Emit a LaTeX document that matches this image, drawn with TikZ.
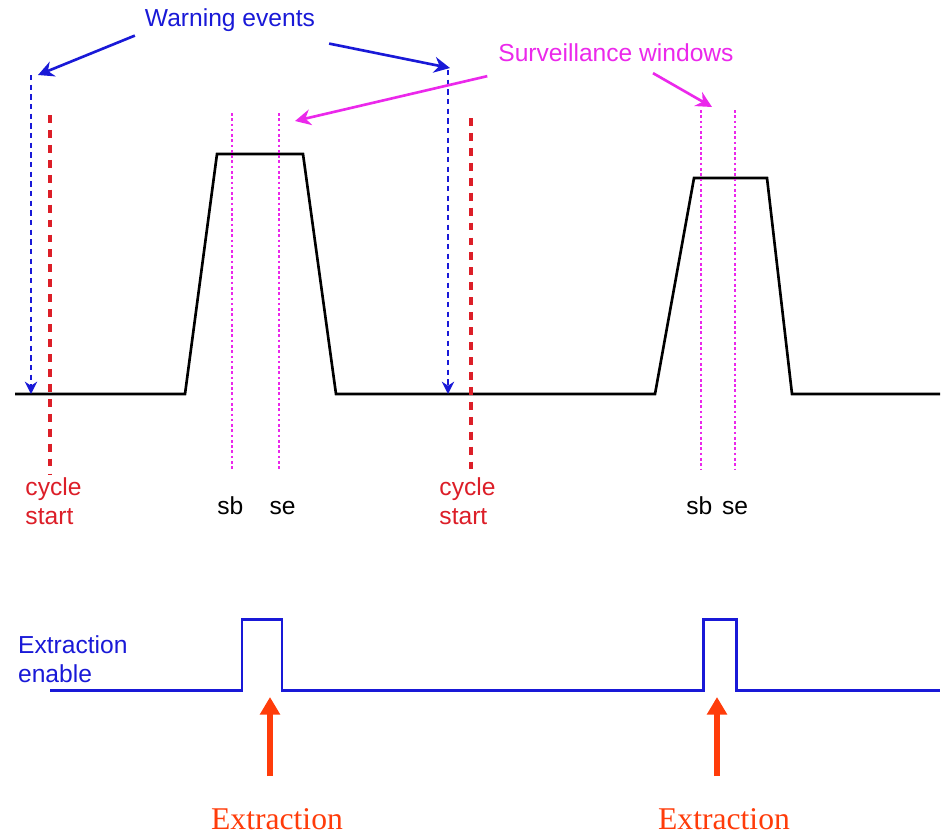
\documentclass[tikz,border=0pt]{standalone}
\usepackage{fontspec}
\setmainfont{Liberation Sans}
\newfontfamily\timesfont{Liberation Serif}
\usetikzlibrary{arrows.meta, positioning}
\definecolor{warnblue}{RGB}{25,25,215}
\definecolor{survmag}{RGB}{235,40,235}
\definecolor{cyclered}{RGB}{220,30,40}
\definecolor{extrred}{RGB}{255,60,10}
\tikzset{
  signal/.style    = {line width=1.5pt, black},
  enable/.style    = {line width=1.7pt, color=warnblue},
  warnline/.style  = {-{Stealth[length=7pt,width=7pt]}, dash pattern=on 3pt off 2.5pt,
                      line width=1.1pt, color=warnblue},
  cycleline/.style = {dash pattern=on 4.5pt off 4pt, line width=2.2pt, color=cyclered},
  survline/.style  = {dash pattern=on 1.5pt off 1.5pt, line width=0.8pt, color=survmag},
  callout/.style   = {-{Stealth[length=9pt,width=9pt]}, line width=1.5pt},
  lbl/.style       = {font=\fontsize{14}{16.5}\selectfont, inner sep=1pt, align=left},
  extrarrow/.style = {-{Triangle[length=10pt,width=11pt]}, line width=3.2pt, color=extrred},
}

\begin{document}
\begin{tikzpicture}[x=0.2mm, y=-0.2mm]
  \useasboundingbox (0,0) rectangle (947,835);
  % machine cycle waveform
  \draw[signal] (15,394) -- (185,394) -- (217,154) -- (303,154) -- (336,394)
    -- (655,394) -- (694,178) -- (767,178) -- (792,394) -- (940,394);
  % warning events
  \coordinate (w1top) at (31,75);   \coordinate (w1bot) at (31,394);
  \coordinate (w2top) at (448,70);  \coordinate (w2bot) at (448,394);
  \draw[warnline] (w1top) -- (w1bot);
  \draw[warnline] (w2top) -- (w2bot);
  \node[lbl, text=warnblue] (warn) at (230,20) {Warning events};
  \draw[callout, warnblue] ([shift={(-8,2)}]warn.south west) -- ([shift={(7,0)}]w1top);
  \draw[callout, warnblue] ([shift={(12,10)}]warn.south east) -- ([shift={(2,-2)}]w2top);
  % cycle start
  \foreach \x/\t/\n/\d in {50/115/1/2, 471/118/2/-2} {
    \coordinate (c\n top) at (\x,\t);
    \coordinate (c\n bot) at (\x,474);
    \draw[cycleline] (c\n top) -- (c\n bot);
    \node[lbl, text=cyclered, below=1pt of c\n bot, xshift=\d pt] (cs\n) {cycle\\start};
  }
  % surveillance windows
  \foreach \x/\t/\n in {232/113/sb1, 279/113/se1, 701/110/sb2, 735/110/se2} {
    \coordinate (\n top) at (\x,\t);
    \coordinate (\n bot) at (\x,470);
    \draw[survline] (\n top) -- (\n bot);
  }
  \foreach \n/\l/\d in {sb1/sb/-1, se1/se/2, sb2/sb/-1, se2/se/0}
    \node[lbl, below=14pt of \n bot, xshift=\d pt, text height=10pt, text depth=3pt]
      (\n lbl) {\l};
  \node[lbl, text=survmag] (surv) at (616,53) {Surveillance windows};
  \draw[callout, survmag] ([shift={(-9,12)}]surv.south west) -- ([shift={(16,8)}]se1top);
  \draw[callout, survmag] ([shift={(37,9)}]surv.south) -- ([shift={(11,-3)}]sb2top);
  % extraction enable
  \draw[enable] (50,690) -- (242,690) -- (242,619) -- (282,619) -- (282,690)
    -- (703,690) -- (703,619) -- (736,619) -- (736,690) -- (940,690);
  \node[lbl, text=warnblue, anchor=west] (enlbl) at (16,659) {Extraction\\enable};
  % extraction
  \foreach \x/\n in {270/1, 717/2} {
    \coordinate (ex\n base) at (\x,776);
    \coordinate (ex\n tip) at (\x,697);
    \draw[extrarrow] (ex\n base) -- (ex\n tip);
    \node[font=\timesfont\fontsize{18}{20}\selectfont, text=extrred, inner sep=0pt]
      (ex\n) at (\x+7,819) {Extraction};
  }
\end{tikzpicture}
\end{document}
